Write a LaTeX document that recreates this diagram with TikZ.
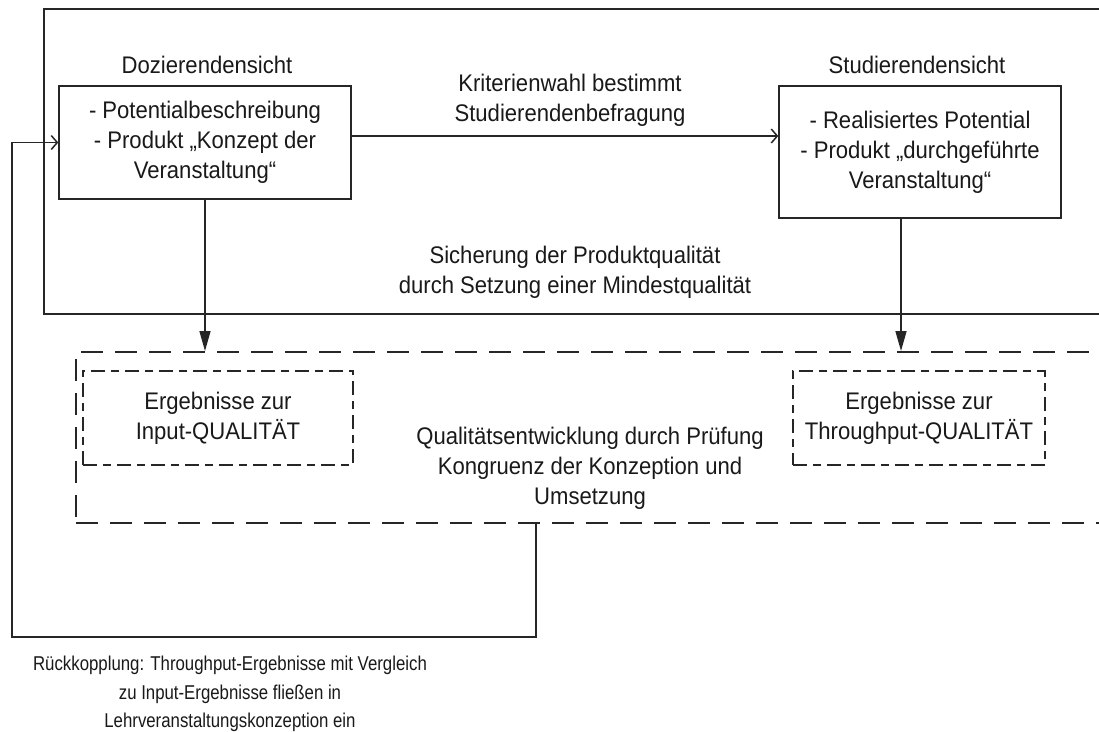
\documentclass[tikz,border=0pt]{standalone}
\usepackage{fontspec}
\setmainfont{Liberation Sans}[FakeStretch=0.92]
\newfontfamily\smallf{Liberation Sans}[FakeStretch=0.84]
\usetikzlibrary{arrows.meta}
\begin{document}
\begin{tikzpicture}[x=1pt,y=-1pt,
  lw/.style={line width=1.5pt, draw=black!85},
  maintext/.style={font=\fontsize{24}{30}\selectfont, align=center, inner sep=0pt, text=black!90},
  smalltext/.style={font=\smallf\fontsize{20}{28.5}\selectfont, align=center, inner sep=0pt, text=black!90},
  solidbox/.style={lw, maintext},
  bigdash/.style={lw, dash pattern=on 22pt off 12pt, inner sep=0pt},
  smalldash/.style={lw, dash pattern=on 14pt off 6pt on 8pt off 6pt, maintext},
  openarrow/.style={-{Straight Barb[length=6pt,width=14pt]}},
  fillarrow/.style={-{Triangle[length=20pt,width=11pt]}}
]
\useasboundingbox (0,0) rectangle (1099,731);
\clip (0,0) rectangle (1099,731);
\fill[white] (0,0) rectangle (1099,731);

% outer frame (open on the right)
\node[lw, anchor=north west, minimum width=1080pt, minimum height=305pt, inner sep=0pt] (outer) at (43,8) {};

% view boxes
\node[maintext] (dzl) at (207,65) {Dozierendensicht};
\node[solidbox, minimum width=292pt, minimum height=113pt] (dz) at (205,142.5)
  {- Potentialbeschreibung\\- Produkt „Konzept der\\Veranstaltung“};
\node[maintext] (stl) at (917,65) {Studierendensicht};
\node[solidbox, minimum width=282pt, minimum height=132pt] (st) at (920,152)
  {- Realisiertes Potential\\- Produkt „durchgeführte\\Veranstaltung“};

\node[maintext] (krit) at (570,100) {Kriterienwahl bestimmt\\Studierendenbefragung};
\node[maintext] (sich) at (575,272) {Sicherung der Produktqualität\\durch Setzung einer Mindestqualität};

% dashed quality frame (open on the right)
\node[bigdash, anchor=north west, minimum width=1050pt, minimum height=171pt] (qd) at (75,351) {};
\node[smalldash, minimum width=270pt, minimum height=94pt] (inp) at (218,418) {Ergebnisse zur\\Input-QUALITÄT};
\node[smalldash, minimum width=252pt, minimum height=94pt] (thr) at (919,418) {Ergebnisse zur\\Throughput-QUALITÄT};
\node[maintext] (qe) at (590,468) {Qualitätsentwicklung durch Prüfung\\Kongruenz der Konzeption und\\Umsetzung};

% feedback text
\node[smalltext] (rk) at (230,694) {Rückkopplung: Throughput-Ergebnisse mit Vergleich\\zu Input-Ergebnisse fließen in\\Lehrveranstaltungskonzeption ein};

% connectors
\draw[lw, openarrow] (dz.east |- 0,136) -- (st.west |- 0,136);
\draw[lw, fillarrow] (dz.south) -- (dz.south |- qd.north);
\draw[lw, fillarrow] ([xshift=-19pt]st.south) -- ([xshift=-19pt]st.south |- qd.north);
\coordinate (fb1) at (536,637);
\coordinate (fb2) at (12,637);
\draw[lw, openarrow] (qd.south -| fb1) -- (fb1) -- (fb2) |- (dz.west);
\end{tikzpicture}
\end{document}
